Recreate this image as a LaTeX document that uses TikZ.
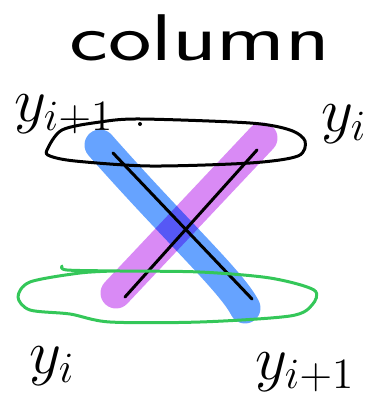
\documentclass[tikz,border=0pt]{standalone}
\usepackage{amsmath}
\usepackage{xcolor}
\usepackage{tikz}
\usetikzlibrary{positioning}
\definecolor{blueink}{HTML}{66A3FF}
\definecolor{purpleink}{HTML}{D98AF5}
\definecolor{greenink}{HTML}{34C759}
\begin{document}
\begin{tikzpicture}[
  x=1pt,y=-1pt,
  pen/.style={line width=3pt,line cap=round,line join=round},
  marker/.style={line width=31pt,line cap=round},
  lbl/.style={inner sep=0pt,font=\huge,scale=3}
]
  \useasboundingbox (0,0) rectangle (376,401);
  \node[inner sep=0pt,xscale=1.4,font=\fontsize{66}{66}\selectfont\sffamily] (t) at (200,38) {column};
  % marker strokes
  \coordinate (bt) at (100,145);
  \coordinate (bb) at (245,308);
  \coordinate (pt) at (262,138);
  \coordinate (pb) at (116,293);
  \begin{scope}[blend group=multiply]
    \draw[marker,purpleink] (pt) -- (pb);
    \draw[marker,blueink] (bt) .. controls (175,230) and (232,282) .. (bb);
  \end{scope}
  % the cross
  \coordinate (a1) at (113,153);
  \coordinate (a2) at (252,299);
  \coordinate (b1) at (257,150);
  \coordinate (b2) at (125,297);
  \draw[pen] (a1) -- (a2);
  \draw[pen] (b1) -- (b2);
  % rows
  \draw[pen] plot[smooth cycle] coordinates {(47,150) (62,130) (100,122) (140,119) (250,123) (290,130) (305,141) (298,156) (250,163) (150,166) (75,161) (50,156)};
  \fill (140,124) circle (2pt);
  \draw[pen,greenink] plot[smooth] coordinates {(62,266) (67,270) (120,271) (200,272) (270,278) (314,290) (312,305) (290,316) (200,322) (110,322) (70,314) (30,310) (18,297) (30,282) (80,273) (115,271)};
  % labels
  \node[lbl] (tl) at (64,114) {$y_{i+1}$};
  \node[lbl] (tr) at (344,124) {$y_i$};
  \node[lbl] (bl) at (52,366) {$y_i$};
  \node[lbl] (br) at (305,372) {$y_{i+1}$};
\end{tikzpicture}
\end{document}
